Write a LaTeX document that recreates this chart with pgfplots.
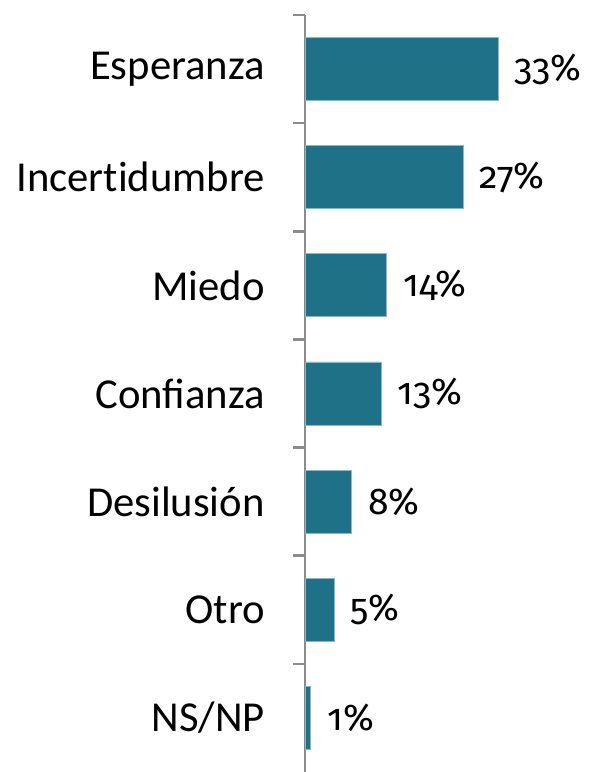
\documentclass[border=0pt]{standalone}
\usepackage{pgfplots}
\pgfplotsset{compat=1.18}
\usepackage{fontspec}
\setmainfont{Carlito}
\newfontfamily\numfont{Fira Sans}[Numbers=OldStyle]
\definecolor{barfill}{HTML}{1F7188}
\definecolor{baredge}{HTML}{8CB8C6}
\definecolor{axgray}{HTML}{8C8C8C}
\begin{document}
\begin{tikzpicture}
\begin{axis}[
  at={(0,0)}, anchor=south west,
  scale only axis,
  width=175.5pt, height=567.75pt,
  xbar, bar width=47.25pt,
  xmin=0, xmax=40,
  ymin=-0.5, ymax=6.5,
  axis x line=none,
  axis y line*=left,
  every outer y axis line/.append style={draw=axgray, line width=2pt, -},
  ytick={0,1,2,3,4,5,6},
  yticklabels={NS/NP,Otro,Desilusión,Confianza,Miedo,Incert\kern0pt idumbre,Esperanza},
  major tick length=0pt,
  minor ytick={0.5,1.5,2.5,3.5,4.5,5.5,6.5},
  minor tick length=9pt,
  tick align=outside,
  every minor tick/.append style={draw=axgray, line width=2pt},
  yticklabel style={anchor=east, inner sep=0pt, xshift=-30pt, font=\fontsize{32}{38}\selectfont},
  point meta=x,
  nodes near coords={\pgfmathprintnumber{\pgfplotspointmeta}\%},
  nodes near coords style={anchor=west, inner sep=0pt, xshift=12pt, font=\numfont\fontsize{28}{36}\selectfont, text=black},
  /pgf/number format/assume math mode=true,
  clip=false,
]
\addplot[fill=barfill, draw=baredge, line width=0.6pt] coordinates {
  (1,0) (5,1) (8,2) (13,3) (14,4) (27,5) (33,6)
};
\end{axis}
\pgfresetboundingbox
\path (-228.75pt,0pt) rectangle (213pt,579pt);
\end{tikzpicture}
\end{document}
